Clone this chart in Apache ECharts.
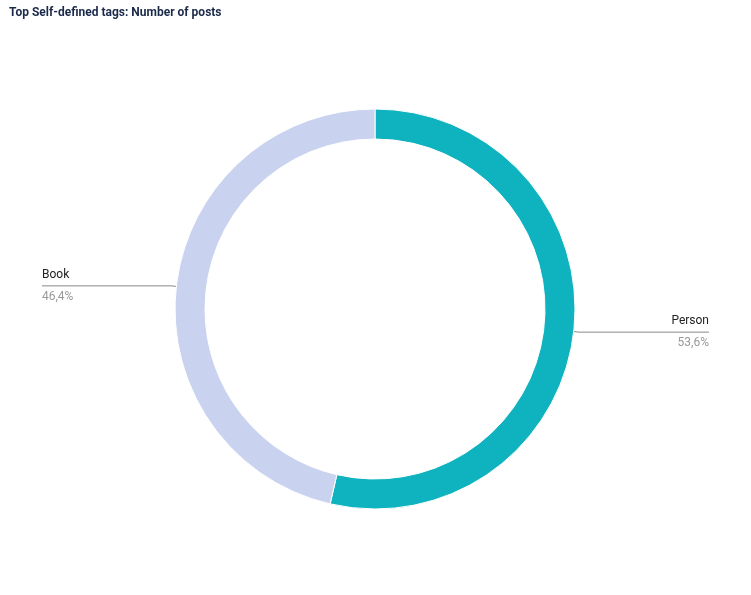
<!DOCTYPE html>
<html><head><meta charset="utf-8">
<script src="https://cdn.jsdelivr.net/npm/echarts@6/dist/echarts.min.js"></script>
<style>html,body{margin:0;padding:0;background:#fff}#c{width:751px;height:595px}</style>
</head><body><div id="c"></div>
<script>
const categories = ['Person', 'Book'];
const values = [53.6, 46.4];
const colors = ['#0fb3bf', '#c9d3f0'];
const chart = echarts.init(document.getElementById('c'));
const cx = 375;
chart.setOption({
  animation: false,
  title: { text: 'Top Self-defined tags: Number of posts', left: 4, top: 2,
    textStyle: { fontFamily: 'Roboto', fontSize: 12, fontWeight: 'bold', color: '#1b2a4a' } },
  series: [{
    type: 'pie', center: [cx, 309], radius: [170, 200], startAngle: 90, clockwise: true,
    data: categories.map((c, i) => ({ name: c, value: values[i], itemStyle: { color: colors[i] } })),
    itemStyle: { borderColor: '#fff', borderWidth: 1 },
    label: {
      alignTo: 'edge', edgeDistance: 42, fontFamily: 'Roboto',
      formatter: p => '{n|' + p.name + '}\n{v|' + p.value.toFixed(1).replace('.', ',') + '%}',
      rich: { n: { fontSize: 12, color: '#222', lineHeight: 22, fontFamily: 'Roboto' },
              v: { fontSize: 12, color: '#999', lineHeight: 22, fontFamily: 'Roboto' } }
    },
    labelLine: { length: 5, length2: 10, lineStyle: { color: '#888', width: 1 } },
    labelLayout: function (p) {
      const pts = p.labelLinePoints;
      if (!pts) return {};
      const r = p.labelRect;
      const last = pts[pts.length - 1].slice();
      last[0] = r.x + r.width / 2 < cx ? r.x : r.x + r.width;
      const np = pts.slice(); np[np.length - 1] = last;
      return { labelLinePoints: np };
    }
  }]
});
</script></body></html>
